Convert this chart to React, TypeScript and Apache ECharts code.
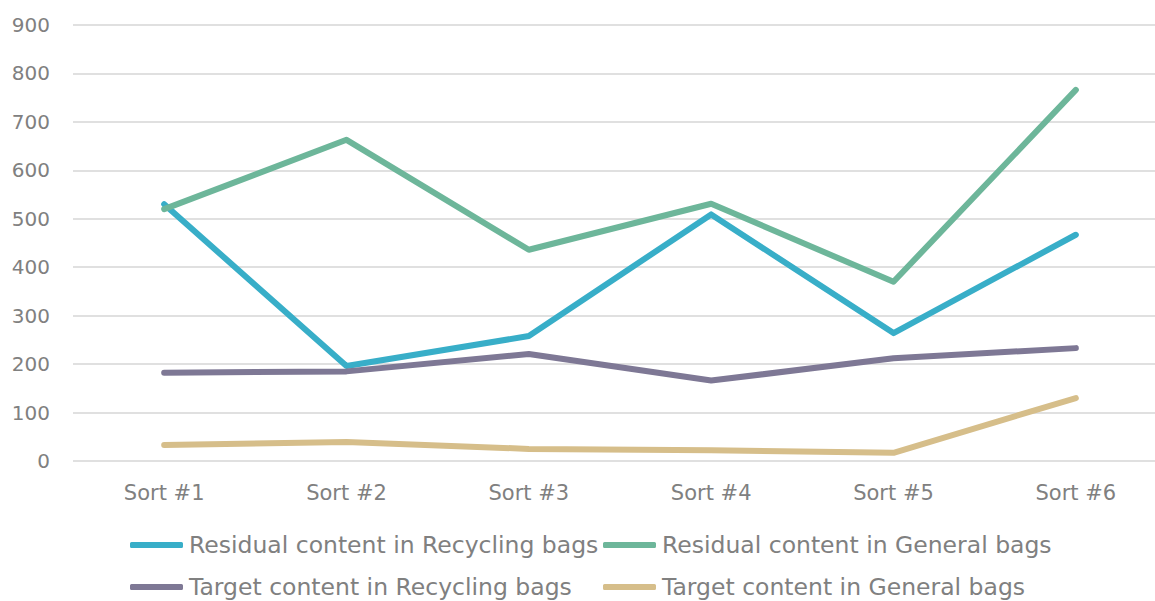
import React, { useEffect, useRef } from "react";
import * as echarts from "echarts";

const categories = ["Sort #1", "Sort #2", "Sort #3", "Sort #4", "Sort #5", "Sort #6"];
const residualRecycling = [530, 196, 258, 509, 264, 467];
const residualGeneral = [520, 663, 436, 531, 370, 766];
const targetRecycling = [182, 185, 221, 166, 212, 233];
const targetGeneral = [33, 39, 25, 22, 17, 130];
const seriesNames = [
  "Residual content in Recycling bags",
  "Residual content in General bags",
  "Target content in Recycling bags",
  "Target content in General bags",
];
const colors = ["#38AEC8", "#6DB69A", "#7E7895", "#D6BE8A"];

const FONT = "'DejaVu Sans'";
const TEXT = "#808080";

export default function App() {
  const ref = useRef<HTMLDivElement>(null);
  useEffect(() => {
    if (!ref.current) return;
    const chart = echarts.init(ref.current, null, { renderer: "svg" });
    const values = [residualRecycling, residualGeneral, targetRecycling, targetGeneral];
    const legendPos = [
      { left: 130, top: 533 },
      { left: 603, top: 533 },
      { left: 130, top: 575 },
      { left: 603, top: 575 },
    ];
    chart.setOption({
      animation: false,
      color: colors,
      grid: { left: 73, top: 25, right: 3, bottom: 140, containLabel: false },
      xAxis: {
        type: "category",
        data: categories,
        boundaryGap: true,
        axisLine: { show: false },
        axisTick: { show: false },
        axisLabel: { color: TEXT, fontFamily: FONT, fontSize: 21, margin: 21 },
      },
      yAxis: {
        type: "value",
        min: 0,
        max: 900,
        interval: 100,
        axisLine: { show: false },
        axisTick: { show: false },
        splitLine: { lineStyle: { color: "#e0e0e0", width: 2 } },
        axisLabel: { color: TEXT, fontFamily: FONT, fontSize: 20, margin: 23 },
      },
      legend: seriesNames.map((name, i) => ({
        data: [name],
        left: legendPos[i].left,
        top: legendPos[i].top,
        icon: "roundRect",
        itemWidth: 53,
        itemHeight: 6,
        itemGap: 0,
        padding: 0,
        selectedMode: false,
        textStyle: { color: TEXT, fontFamily: FONT, fontSize: 23.5, padding: [0, 0, 0, 1] },
      })),
      series: seriesNames.map((name, i) => ({
        name,
        type: "line",
        data: values[i],
        showSymbol: false,
        symbol: "none",
        lineStyle: { width: 6, color: colors[i], cap: "round", join: "round" },
        itemStyle: { color: colors[i] },
      })),
    });
    return () => chart.dispose();
  }, []);
  return (
    <div style={{ position: "fixed", left: 0, top: 0, width: 1155, height: 601, overflow: "hidden", background: "#fff" }}>
      <div ref={ref} style={{ width: 1170, height: 601 }} />
    </div>
  );
}
